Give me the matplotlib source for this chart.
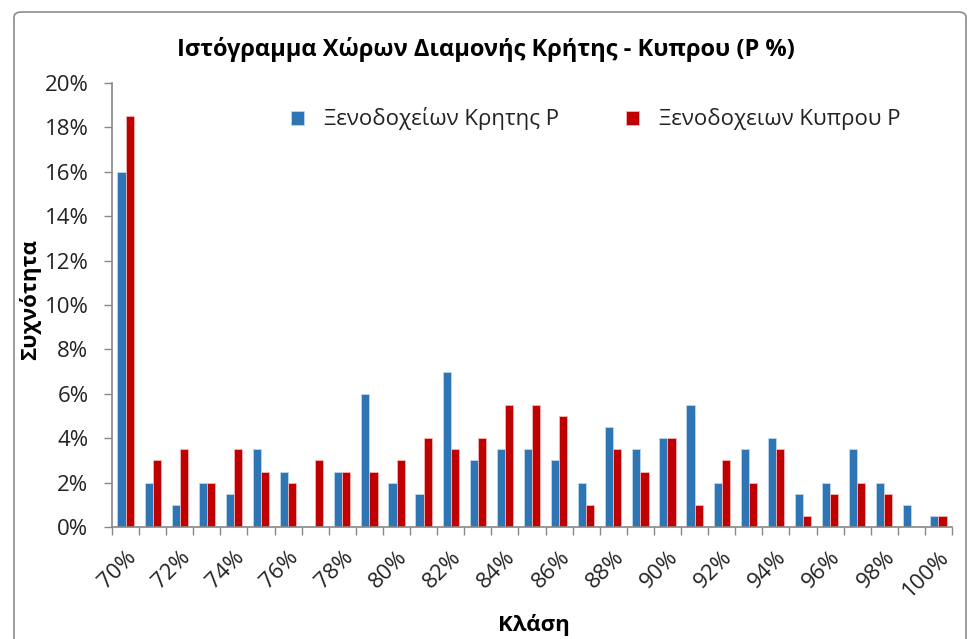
import matplotlib.pyplot as plt
import numpy as np
from matplotlib.patches import FancyBboxPatch

# Data (percent per class)
classes = list(range(70, 101))
crete = [16, 2, 1, 2, 1.5, 3.5, 2.5, 0, 2.5, 6, 2, 1.5, 7, 3, 3.5, 3.5, 3, 2,
         4.5, 3.5, 4, 5.5, 2, 3.5, 4, 1.5, 2, 3.5, 2, 1, 0.5]
cyprus = [18.5, 3, 3.5, 2, 3.5, 2.5, 2, 3, 2.5, 2.5, 3, 4, 3.5, 4, 5.5, 5.5, 5,
          1, 3.5, 2.5, 4, 1, 3, 2, 3.5, 0.5, 1.5, 2, 1.5, 0, 0.5]
names = ['Ξενοδοχείων Κρητης P', 'Ξενοδοχειων Κυπρου P']
colors = ['#2E75B6', '#C00000']

plt.rcParams['font.family'] = ['Open Sans', 'DejaVu Sans']

fig = plt.figure(figsize=(9.71, 6.39), dpi=100)
ax = fig.add_axes([112/971, 1 - 527/639, (952-112)/971, (527-83)/639])

# chart area border
border = FancyBboxPatch((14/971, -0.05), (966-14)/971, (639-12)/639 + 0.05,
                        boxstyle='round,pad=0,rounding_size=0.008',
                        transform=fig.transFigure, fill=False,
                        edgecolor='#8c8c8c', linewidth=1.2)
fig.patches.append(border)

x = np.arange(len(classes))
w = 0.3
ax.bar(x - w/2, crete, w, color=colors[0], edgecolor='#BDD7EE', linewidth=0.6, label=names[0])
ax.bar(x + w/2, cyprus, w, color=colors[1], edgecolor='#F4B6B6', linewidth=0.6, label=names[1])

ax.set_xlim(-0.5, len(classes) - 0.5)
ax.set_ylim(0, 20)
ax.set_yticks(np.arange(0, 21, 2))
ax.set_yticklabels([f'{v}%' for v in range(0, 21, 2)], fontsize=16, color='#222222')

ax.set_xticks(x[::2])
ax.set_xticklabels([f'{c}%' for c in classes[::2]], fontsize=16, color='#222222',
                   rotation=45, ha='right', rotation_mode='anchor')
ax.tick_params(axis='x', length=0, pad=14)
ax.set_xticks(np.arange(-0.5, len(classes)), minor=True)
ax.tick_params(axis='x', which='minor', length=6, color='#888888', width=1)
ax.tick_params(axis='y', length=6, color='#888888', width=1, pad=11)

for s in ['top', 'right']:
    ax.spines[s].set_visible(False)
for s in ['left', 'bottom']:
    ax.spines[s].set_color('#888888')
    ax.spines[s].set_linewidth(1.2)

fig.text(0.5, 1 - 50/639, 'Ιστόγραμμα Χώρων Διαμονής Κρήτης - Κυπρου (P %)',
         ha='center', va='center', fontsize=17, fontweight='bold')
fig.text(30/971, 1 - 300/639, 'Συχνότητα', rotation=90, ha='center', va='center',
         fontsize=16, fontweight='bold')
fig.text(534/971, 1 - 625/639, 'Κλάση', ha='center', va='center',
         fontsize=16, fontweight='bold')

ax.legend(loc='upper center', bbox_to_anchor=(0.576, 0.99), ncol=2, frameon=False,
          fontsize=16, handlelength=0.6, handleheight=0.6, columnspacing=3.0,
          handletextpad=0.9, labelcolor='#222222')

fig.savefig('out.png', dpi=100)
